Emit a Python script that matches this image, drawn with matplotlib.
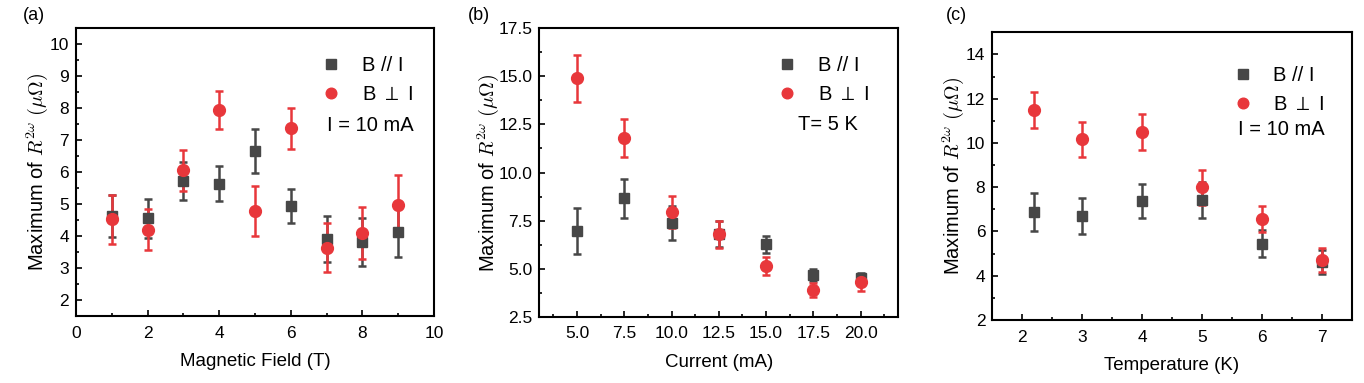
import numpy as np
import matplotlib
matplotlib.use("Agg")
import matplotlib.pyplot as plt
from matplotlib.ticker import MultipleLocator, FormatStrFormatter

plt.rcParams['font.family'] = ['Liberation Sans', 'DejaVu Sans']
plt.rcParams['mathtext.fontset'] = 'cm'

# (a) vs magnetic field, I = 10 mA
field = [1, 2, 3, 4, 5, 6, 7, 8, 9]
a_par = [4.62, 4.55, 5.71, 5.63, 6.65, 4.94, 3.92, 3.82, 4.13]
a_par_err = [0.65, 0.60, 0.60, 0.55, 0.68, 0.52, 0.72, 0.75, 0.78]
a_perp = [4.52, 4.20, 6.05, 7.94, 4.78, 7.36, 3.64, 4.10, 4.96]
a_perp_err = [0.76, 0.63, 0.63, 0.60, 0.78, 0.64, 0.77, 0.82, 0.95]

# (b) vs current, T = 5 K
current = [5.0, 7.5, 10.0, 12.5, 15.0, 17.5, 20.0]
b_par = [6.94, 8.66, 7.37, 6.80, 6.26, 4.68, 4.51]
b_par_err = [1.20, 1.00, 0.90, 0.70, 0.45, 0.30, 0.25]
b_perp = [14.90, 11.79, 7.96, 6.78, 5.15, 3.89, 4.29]
b_perp_err = [1.23, 0.98, 0.82, 0.71, 0.48, 0.37, 0.43]

# (c) vs temperature, I = 10 mA
temp = [2.2, 3, 4, 5, 6, 7]
c_par = [6.86, 6.68, 7.36, 7.42, 5.45, 4.62]
c_par_err = [0.86, 0.81, 0.77, 0.80, 0.60, 0.54]
c_perp = [11.49, 10.16, 10.49, 7.99, 6.56, 4.71]
c_perp_err = [0.82, 0.78, 0.80, 0.78, 0.60, 0.55]

gray = '#474747'
red = '#e8373b'
ylab = r'Maximum of $R^{2\omega}\ (\mu\Omega)$'

fig = plt.figure(figsize=(13.64, 3.83), dpi=100)

panels = [
    dict(rect=[0.0557, 0.1749, 0.2625, 0.752], x=field, p=a_par, pe=a_par_err, q=a_perp, qe=a_perp_err,
         xlim=(0, 10), ylim=(1.5, 10.5), xmaj=2, xmin=1, ymaj=1, ymin=0.5, xfmt='%d', yfmt='%d',
         xlabel='Magnetic Field (T)', tag='(a)', note='I = 10 mA',
         leg=(0.684, 0.902), note_xy=(0.70, 0.663)),
    dict(rect=[0.3954, 0.1731, 0.2632, 0.7529], x=current, p=b_par, pe=b_par_err, q=b_perp, qe=b_perp_err,
         xlim=(3, 22), ylim=(2.5, 17.5), xmaj=2.5, xmin=1.25, ymaj=2.5, ymin=1.25, xfmt='%.1f', yfmt='%.1f',
         xlabel='Current (mA)', tag='(b)', note='T= 5 K',
         leg=(0.663, 0.905), note_xy=(0.72, 0.665)),
    dict(rect=[0.7275, 0.1645, 0.2635, 0.7512], x=temp, p=c_par, pe=c_par_err, q=c_perp, qe=c_perp_err,
         xlim=(1.5, 7.5), ylim=(2, 15), xmaj=1, xmin=0.5, ymaj=2, ymin=1, xfmt='%d', yfmt='%d',
         xlabel='Temperature (K)', tag='(c)', note='I = 10 mA',
         leg=(0.669, 0.882), note_xy=(0.684, 0.663)),
]

tag_x = [23, 468, 946]
ypads = [0, -2, 0]

for i, pn in enumerate(panels):
    ax = fig.add_axes(pn['rect'])
    ax.errorbar(pn['x'], pn['p'], yerr=pn['pe'], fmt='s', color=gray, ms=7.5,
                elinewidth=1.8, capsize=3, capthick=1.8, label='B // I')
    ax.errorbar(pn['x'], pn['q'], yerr=pn['qe'], fmt='o', color=red, ms=8.5,
                elinewidth=1.8, capsize=3, capthick=1.8, label=r'B $\perp$ I')
    ax.set_xlim(pn['xlim'])
    ax.set_ylim(pn['ylim'])
    ax.xaxis.set_major_locator(MultipleLocator(pn['xmaj']))
    ax.xaxis.set_minor_locator(MultipleLocator(pn['xmin']))
    ax.yaxis.set_major_locator(MultipleLocator(pn['ymaj']))
    ax.yaxis.set_minor_locator(MultipleLocator(pn['ymin']))
    ax.xaxis.set_major_formatter(FormatStrFormatter(pn['xfmt']))
    ax.yaxis.set_major_formatter(FormatStrFormatter(pn['yfmt']))
    if i == 1:
        ax.set_xticks([5, 7.5, 10, 12.5, 15, 17.5, 20])
    ax.tick_params(which='both', direction='in', labelsize=12.5, width=1.2)
    ax.tick_params(which='major', length=4, pad=5)
    ax.tick_params(axis='x', which='major', pad=7)
    ax.tick_params(which='minor', length=2)
    for s in ax.spines.values():
        s.set_linewidth(1.5)
    ax.set_xlabel(pn['xlabel'], fontsize=13.5, labelpad=9)
    ax.set_ylabel(ylab, fontsize=14.5, labelpad=ypads[i])

    h, l = ax.get_legend_handles_labels()
    h = [hh[0] for hh in h]
    ax.legend(h, l, loc='upper left', bbox_to_anchor=pn['leg'], frameon=False, fontsize=14.5,
              borderpad=0, borderaxespad=0, handlelength=1, handletextpad=1.02, labelspacing=0.5,
              markerscale=0.9)
    ax.text(pn['note_xy'][0], pn['note_xy'][1], pn['note'], transform=ax.transAxes,
            fontsize=14.5, va='center', ha='left')
    fig.text(tag_x[i] / 1364, 1 - 15 / 383, pn['tag'], fontsize=13, va='center', ha='left')

fig.savefig('out.png', dpi=100)
